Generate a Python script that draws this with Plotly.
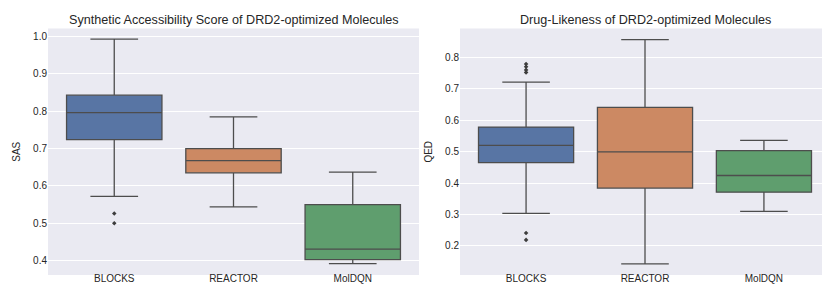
import plotly.graph_objects as go

categories = ["BLOCKS", "REACTOR", "MolDQN"]
colors = ["#5875A4", "#CC8963", "#5F9E6E"]

# SAS statistics (left panel)
sas_lower = [0.572, 0.544, 0.392]
sas_q1 = [0.724, 0.635, 0.403]
sas_median = [0.796, 0.668, 0.431]
sas_q3 = [0.843, 0.700, 0.550]
sas_upper = [0.993, 0.785, 0.637]
sas_outliers = {"BLOCKS": [0.526, 0.500]}

# QED statistics (right panel)
qed_lower = [0.3035, 0.143, 0.310]
qed_q1 = [0.465, 0.384, 0.371]
qed_median = [0.520, 0.499, 0.424]
qed_q3 = [0.578, 0.641, 0.503]
qed_upper = [0.721, 0.856, 0.536]
qed_outliers = {"BLOCKS": [0.779, 0.770, 0.760, 0.752, 0.241, 0.219]}

titles = ["Synthetic Accessibility Score of DRD2-optimized Molecules",
          "Drug-Likeness of DRD2-optimized Molecules"]
ylabels = ["SAS", "QED"]

FONT = "Liberation Sans, Arial, sans-serif"
LINE = "#4D4D4D"

fig = go.Figure()

panels = [
    (sas_lower, sas_q1, sas_median, sas_q3, sas_upper, sas_outliers, "x", "y"),
    (qed_lower, qed_q1, qed_median, qed_q3, qed_upper, qed_outliers, "x2", "y2"),
]

for lo, q1, med, q3, up, outl, xa, ya in panels:
    for i, cat in enumerate(categories):
        fig.add_trace(go.Box(
            x=[cat], q1=[q1[i]], median=[med[i]], q3=[q3[i]],
            lowerfence=[lo[i]], upperfence=[up[i]], width=0.8,
            fillcolor=colors[i], line=dict(color=LINE, width=1.3),
            whiskerwidth=0.5, boxpoints=False, showlegend=False,
            xaxis=xa, yaxis=ya, hoverinfo="skip",
        ))
        if cat in outl:
            fig.add_trace(go.Scatter(
                x=[cat] * len(outl[cat]), y=outl[cat], mode="markers",
                marker=dict(symbol="diamond", size=3.5, color="#3D3D3D"),
                showlegend=False, xaxis=xa, yaxis=ya, hoverinfo="skip",
            ))

axis_common = dict(
    showgrid=True, gridcolor="white", gridwidth=1, zeroline=False,
    showline=False, ticks="", tickfont=dict(family=FONT, size=10, color="#262626"),
)

fig.update_layout(
    width=830, height=291,
    margin=dict(l=0, r=0, t=0, b=0),
    paper_bgcolor="white",
    plot_bgcolor="#EAEAF2",
    font=dict(family=FONT, color="#262626"),
    xaxis=dict(domain=[40/830, 411/830], type="category",
               categoryorder="array", categoryarray=categories,
               ticklabelstandoff=-4,
               **{**axis_common, "showgrid": False}),
    yaxis=dict(domain=[1-267/291, 1-20.5/291], range=[0.3616, 1.0214],
               dtick=0.1, tickformat=".1f", anchor="x",
               title=dict(text=ylabels[0], font=dict(family=FONT, size=10), standoff=10),
               **axis_common),
    xaxis2=dict(domain=[452/830, 822/830], type="category", anchor="y2",
                categoryorder="array", categoryarray=categories,
                ticklabelstandoff=-4,
                **{**axis_common, "showgrid": False}),
    yaxis2=dict(domain=[1-267/291, 1-20.5/291], range=[0.1073, 0.8917],
                dtick=0.1, tickformat=".1f", anchor="x2",
                title=dict(text=ylabels[1], font=dict(family=FONT, size=10), standoff=10),
                **axis_common),
    annotations=[
        dict(text=titles[0], x=(40+411)/2/830, y=1-12/291, xref="paper", yref="paper",
             xanchor="center", yanchor="middle", showarrow=False,
             font=dict(family=FONT, size=12.6, color="#262626")),
        dict(text=titles[1], x=(452+822)/2/830, y=1-12/291, xref="paper", yref="paper",
             xanchor="center", yanchor="middle", showarrow=False,
             font=dict(family=FONT, size=12.6, color="#262626")),
    ],
)

fig.write_html("out.html")
